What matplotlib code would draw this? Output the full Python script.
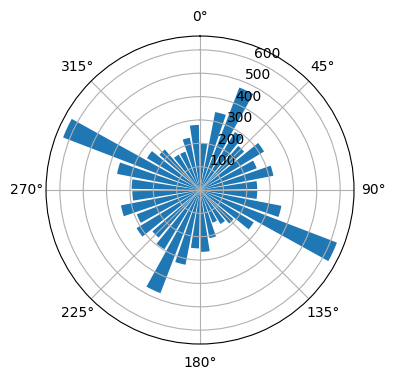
import numpy as np
import matplotlib
matplotlib.use("Agg")
import matplotlib.pyplot as plt

# bin centres in degrees (compass, clockwise from north)
bin_centers_deg = np.arange(5, 360, 10)
counts = [200, 340, 470, 290, 250, 320, 260, 320, 245,
          245, 355, 628, 268, 190, 170, 150, 210, 265,
          250, 326, 473, 296, 270, 317, 290, 345, 290,
          293, 362, 628, 265, 230, 177, 176, 228, 279]
bar_width_deg = 8

fig = plt.figure(figsize=(3.96, 3.80), dpi=100)
ax = fig.add_axes([0.1162, 0.0947, 0.7778, 0.8105], projection='polar')
ax.set_theta_zero_location('N')
ax.set_theta_direction(-1)
ax.bar(np.deg2rad(bin_centers_deg), counts, width=np.deg2rad(bar_width_deg), color='C0')
ax.set_rticks([100, 200, 300, 400, 500, 600])
fig.savefig('out.png', dpi=100)
